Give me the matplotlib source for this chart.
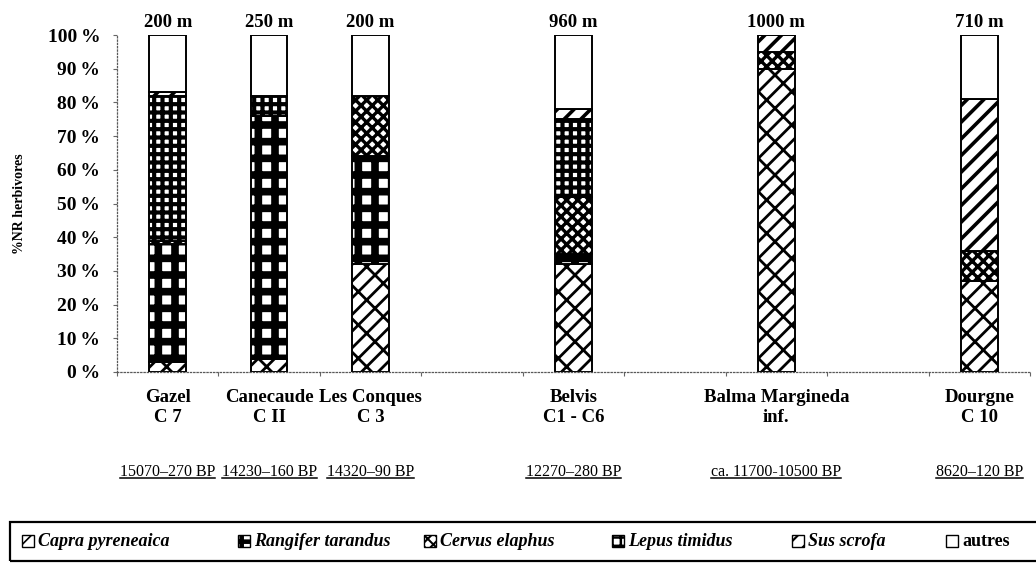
import matplotlib
matplotlib.use('Agg')
import matplotlib.pyplot as plt
import matplotlib.transforms as mtransforms
from matplotlib.patches import Rectangle
from matplotlib.lines import Line2D
import numpy as np

plt.rcParams['font.family'] = ['Liberation Serif', 'DejaVu Serif']

# sites (category slots leave gaps like the original sheet)
sites = ['Gazel\nC 7', 'Canecaude\nC II', 'Les Conques\nC 3', 'Belvis\nC1 - C6',
         'Balma Margineda\ninf.', 'Dourgne\nC 10']
slots = [0, 1, 2, 4, 6, 8]
altitudes = ['200 m', '250 m', '200 m', '960 m', '1000 m', '710 m']
dates = ['15070–270 BP', '14230–160 BP', '14320–90 BP', '12270–280 BP',
         'ca. 11700-10500 BP', '8620–120 BP']

species = ['Capra pyreneaica', 'Rangifer tarandus', 'Cervus elaphus',
           'Lepus timidus', 'Sus scrofa', 'autres']
capra = [3, 4, 32, 32, 90, 27]
rangifer = [35, 72, 32, 3, 0, 0]
cervus = [1, 0, 18, 17, 5, 9]
lepus = [43, 6, 0, 23, 0, 0]
sus = [1, 0, 0, 3, 5, 45]
autres = [17, 18, 18, 22, 0, 19]

# face colour, hatch colour, hatch, hatch line width
styles = [('white', 'black', '//\\', 2.0),
          ('white', 'black', '+', 5.5),
          ('white', 'black', 'xxx', 2.4),
          ('white', 'black', '++', 3.0),
          ('white', 'black', '//', 2.6),
          ('white', 'black', '', 1.0)]

W, H = 1036, 570
fig = plt.figure(figsize=(W / 100, H / 100), dpi=100)
ax = fig.add_axes([117 / W, 1 - 372 / H, 913 / W, (372 - 35) / H])

bottom = np.zeros(len(slots))
for vals, (fc, hc, h, hlw) in zip([capra, rangifer, cervus, lepus, sus, autres], styles):
    vals = np.array(vals, dtype=float)
    with plt.rc_context({'hatch.linewidth': hlw}):
        ax.bar(slots, vals, 0.36, bottom=bottom, color=fc, edgecolor=hc, hatch=h, linewidth=0)
    ax.bar(slots, vals, 0.36, bottom=bottom, fill=False, edgecolor='black', linewidth=1.4)
    bottom += vals

ax.set_xlim(-0.5, 8.5)
ax.set_ylim(0, 100)
for s in ['top', 'right']:
    ax.spines[s].set_visible(False)
for s in ['left', 'bottom']:
    ax.spines[s].set_linestyle(':')
    ax.spines[s].set_color('0.35')
    ax.spines[s].set_linewidth(0.9)

ax.set_yticks(range(0, 101, 10))
ax.set_yticklabels(['{}\u2009%'.format(v) for v in range(0, 101, 10)],
                   fontsize=14, fontweight='bold')
ax.set_xticks(np.arange(-0.5, 9, 1))
ax.set_xticklabels([])
ax.tick_params(axis='both', length=3, width=0.8, color='0.4', direction='out')
ax.tick_params(axis='y', pad=9)
ax.set_ylabel('%NR herbivores', fontsize=10, fontweight='bold')
ax.yaxis.set_label_coords(-0.1, 0.5)

for x, alt in zip(slots, altitudes):
    ax.text(x, 101.2, alt, ha='center', va='bottom', fontsize=13.5, fontweight='bold', clip_on=False)

tr = mtransforms.blended_transform_factory(ax.transData, fig.transFigure)
for x, lab in zip(slots, sites):
    ax.text(x, 1 - 389 / H, lab, transform=tr, ha='center', va='top', fontsize=13.5,
            fontweight='bold', linespacing=1.2)

date_texts = []
for x, d in zip(slots, dates):
    date_texts.append(ax.text(x, 1 - 476 / H, d, transform=tr, ha='center', va='baseline',
                              fontsize=11.5))

# legend box along the bottom edge
fig.patches.append(Rectangle((10 / W, 1 - 561 / H), 1040 / W, 39 / H, transform=fig.transFigure,
                             fill=False, edgecolor='black', linewidth=1.6))
leg_x = [22, 238, 424, 612, 792, 946]
ly = 1 - 541 / H
for x0, name, (fc, hc, h, hlw) in zip(leg_x, species, styles):
    sq = (x0 / W, ly - 6 / H)
    with plt.rc_context({'hatch.linewidth': hlw * 0.6}):
        fig.patches.append(Rectangle(sq, 12 / W, 12 / H, transform=fig.transFigure,
                                     facecolor=fc, edgecolor=hc, hatch=h, linewidth=0))
    fig.patches.append(Rectangle(sq, 12 / W, 12 / H, transform=fig.transFigure,
                                 fill=False, edgecolor='black', linewidth=1))
    style = 'normal' if name == 'autres' else 'italic'
    fig.text((x0 + 16) / W, ly, name, ha='left', va='center', fontsize=13,
             fontweight='bold', style=style)

# underline the dates
fig.canvas.draw()
r = fig.canvas.get_renderer()
inv = fig.transFigure.inverted()
for t in date_texts:
    bb = t.get_window_extent(r)
    (x0, y0), (x1, _) = inv.transform([[bb.x0, bb.y0 + 2], [bb.x1, bb.y1]])
    fig.lines.append(Line2D([x0, x1], [y0, y0], transform=fig.transFigure,
                            color='black', linewidth=1.1))

fig.savefig('out.png', dpi=100)
